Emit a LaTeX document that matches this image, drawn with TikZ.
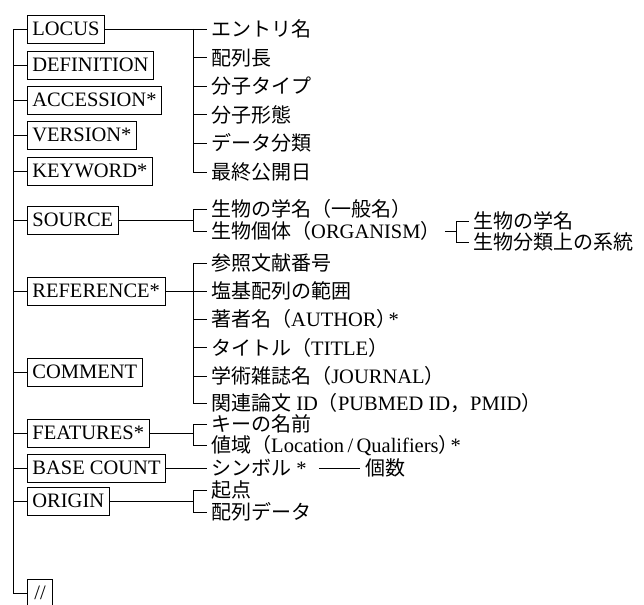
\documentclass[tikz,border=0pt]{standalone}
\usepackage{fontspec}
\setmainfont{Liberation Serif}
\newfontfamily\jpfont[Scale=0.976]{Noto Sans CJK JP}
\newcommand\jpn[1]{{\jpfont #1}}
\begin{document}
\begin{tikzpicture}[x=1pt,y=-1pt,
  ln/.style={line width=0.8pt},
  kbox/.style={draw, line width=0.8pt, anchor=west, inner xsep=5pt, inner ysep=7.5pt,
    text height=13pt, text depth=0pt, font=\fontsize{20.5}{24}\selectfont},
  itm/.style={anchor=west, inner xsep=4pt, inner ysep=1pt,
    text height=15pt, text depth=0pt, font=\fontsize{20.5}{24}\selectfont}]
\useasboundingbox (0,0) rectangle (644,604);
\coordinate (tx) at (13,0);
\coordinate (bx) at (193,0);
% keyword boxes
\node[kbox] (locus) at (27,29) {LOCUS};
\node[kbox] (definition) at (27,65) {DEFINITION};
\node[kbox] (accession) at (27,100) {ACCESSION*};
\node[kbox] (version) at (27,135) {VERSION*};
\node[kbox] (keyword) at (27,171) {KEYWORD*};
\node[kbox] (source) at (27,220) {SOURCE};
\node[kbox] (reference) at (27,291) {REFERENCE*};
\node[kbox] (comment) at (27,372) {COMMENT};
\node[kbox] (features) at (27,433) {FEATURES*};
\node[kbox] (basecount) at (27,468) {BASE COUNT};
\node[kbox] (origin) at (27,501) {ORIGIN};
\node[kbox, inner xsep=7pt] (sl) at (27,593) {//};
% trunk
\draw[ln] (locus.west) -| (tx |- sl.west) -- (sl.west);
\foreach \n in {definition,accession,version,keyword,source,reference,comment,features,basecount,origin}
  \draw[ln] (tx |- \n.west) -- (\n.west);
% LOCUS items
\node[itm] (l1) at (207,29) {\jpn{エントリ名}};
\node[itm] (l2) at (207,57.6) {\jpn{配列長}};
\node[itm] (l3) at (207,86.2) {\jpn{分子タイプ}};
\node[itm] (l4) at (207,114.8) {\jpn{分子形態}};
\node[itm] (l5) at (207,143.4) {\jpn{データ分類}};
\node[itm] (l6) at (207,172) {\jpn{最終公開日}};
\draw[ln] (locus.east) -- (l1.west);
\draw[ln] (bx |- l1.west) |- (l6.west);
\foreach \n in {l2,l3,l4,l5} \draw[ln] (bx |- \n.west) -- (\n.west);
% SOURCE items
\node[itm] (s1) at (207,209) {\jpn{生物の学名（一般名）}};
\node[itm] (s2) at (207,231) {\jpn{生物個体（}ORGANISM\jpn{）}};
\draw[ln] (source.east) -- (bx |- source.east);
\draw[ln] (s1.west) -| (bx |- s2.west) -- (s2.west);
\path (s2.east) ++(12,0) coordinate (sbx);
\node[itm, xshift=12pt] (o1) at (sbx |- 0,221) {\jpn{生物の学名}};
\node[itm, xshift=12pt] (o2) at (sbx |- 0,242) {\jpn{生物分類上の系統}};
\draw[ln] (s2.east) -- (sbx);
\draw[ln] (o1.west) -| (sbx |- o2.west) -- (o2.west);
% REFERENCE items
\node[itm] (r1) at (207,263) {\jpn{参照文献番号}};
\node[itm] (r2) at (207,291) {\jpn{塩基配列の範囲}};
\node[itm] (r3) at (207,319) {\jpn{著者名（}AUTHOR\jpn{）}\kern-8pt*};
\node[itm] (r4) at (207,347.5) {\jpn{タイトル（}TITLE\jpn{）}};
\node[itm] (r5) at (207,376) {\jpn{学術雑誌名（}JOURNAL\jpn{）}};
\node[itm] (r6) at (207,403) {\jpn{関連論文} ID\jpn{（}PUBMED ID\jpn{，}PMID\jpn{）}};
\draw[ln] (reference.east) -- (r2.west);
\draw[ln] (r1.west) -| (bx |- r6.west) -- (r6.west);
\foreach \n in {r3,r4,r5} \draw[ln] (bx |- \n.west) -- (\n.west);
% FEATURES items
\node[itm] (f1) at (207,424) {\jpn{キーの名前}};
\node[itm] (f2) at (207,445) {\jpn{値域（}Location\,/\,Qualifiers\jpn{）}\kern-8pt*};
\draw[ln] (features.east) -- (bx |- features.east);
\draw[ln] (f1.west) -| (bx |- f2.west) -- (f2.west);
% BASE COUNT
\node[itm] (b1) at (207,468) {\jpn{シンボル} *};
\node[itm] (b2) at ([xshift=50pt]b1.east) {\jpn{個数}};
\draw[ln] (basecount.east) -- (b1.west);
\draw[ln] ([xshift=8pt]b1.east) -- ([xshift=-1pt]b2.west);
% ORIGIN items
\node[itm] (g1) at (207,490) {\jpn{起点}};
\node[itm] (g2) at (207,512) {\jpn{配列データ}};
\draw[ln] (origin.east) -- (bx |- origin.east);
\draw[ln] (g1.west) -| (bx |- g2.west) -- (g2.west);
\end{tikzpicture}
\end{document}
